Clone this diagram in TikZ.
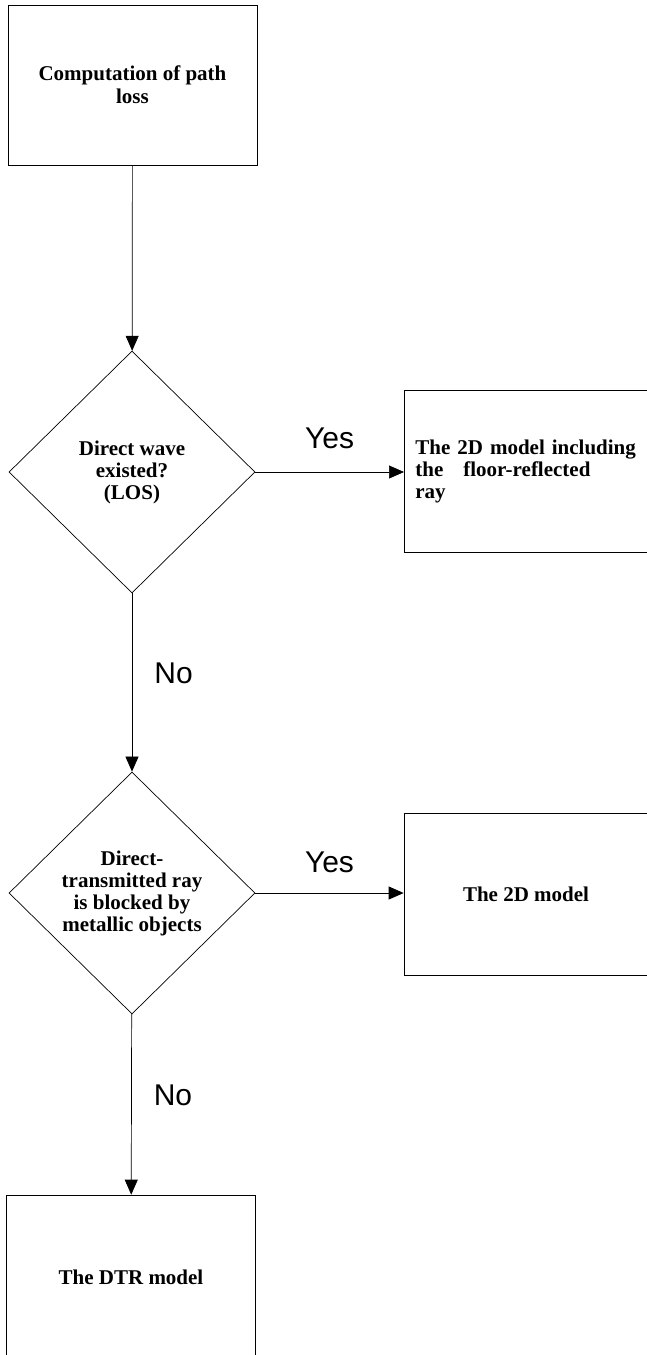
\documentclass[tikz,border=0pt]{standalone}
\usepackage{fontspec}
\setmainfont{Liberation Serif}
\newfontfamily\answerfont{Liberation Sans}
\usetikzlibrary{arrows.meta, shapes.geometric, positioning}

\begin{document}
\begin{tikzpicture}[x = 1pt, y = -1pt, > = {Triangle[length = 15pt, width = 13pt]},
	box/.style = {draw, line width = 0.7pt, font = \bfseries\fontsize{21}{22}\selectfont, inner sep = 0pt},
	decision/.style = {box, diamond, minimum width = 246pt, minimum height = 242pt, align = center},
	answer/.style = {font = \answerfont\fontsize{30}{32}\selectfont, inner sep = 2pt},
	flow/.style = {->, line width = 0.7pt}]
	
	\useasboundingbox (0, 0) rectangle (646, 1355);
	
	\node [box, minimum width = 249pt, minimum height = 160pt, align = center, font = \bfseries\fontsize{21}{23}\selectfont] (loss) at (132.5, 85) {Computation of path\\loss};
	
	\node [decision] (los) at (132, 472) {Direct wave\\existed?\\(LOS)};
	
	\node [box, anchor = west, text width = 230pt, inner xsep = 11pt, minimum height = 162pt, align = left] (floor) at (404, 471) {The 2D model including\\the\hspace{20pt}floor-reflected\\ray};
	
	\node [decision] (metal) at (132, 893) {Direct-\\transmitted ray\\is blocked by\\metallic objects};
	
	\node [box, minimum width = 244pt, minimum height = 162pt] (plain) at (526, 894) {The 2D model};
	
	\node [box, minimum width = 249pt, minimum height = 165pt] (dtr) at (131, 1277.5) {The DTR model};
	
	\draw [flow] (loss) -- (los);
	
	\draw [flow] (los.east) -- node [answer, above = 21pt] (yes1) {Yes} (los.east -| floor.west);
	
	\draw [flow] (los) -- node [answer, pos = 0.45, right = 20pt] (no1) {No} (metal);
	
	\draw [flow] (metal.east) -- node [answer, above = 18pt] (yes2) {Yes} (metal.east -| plain.west);
	
	\draw [flow] (metal) -- node [answer, pos = 0.45, right = 20pt] (no2) {No} (dtr);
	
\end{tikzpicture}
\end{document}
